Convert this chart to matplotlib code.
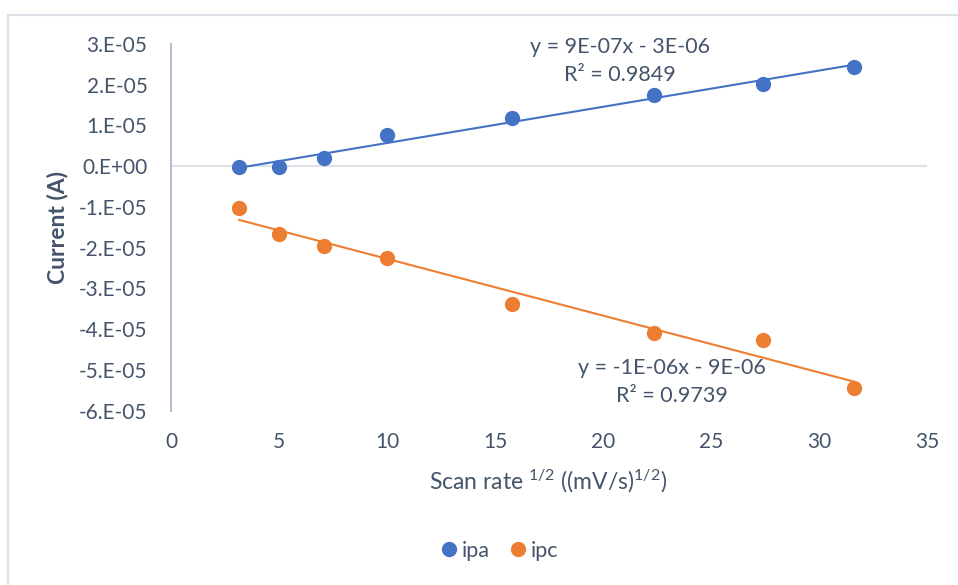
import numpy as np
import matplotlib
matplotlib.use("Agg")
import matplotlib.pyplot as plt
from matplotlib.lines import Line2D
from matplotlib.patches import Rectangle

# Square root of scan rate, (mV/s)^1/2
scan_rate_sqrt = [3.16, 5.00, 7.07, 10.00, 15.81, 22.36, 27.39, 31.62]
# Anodic peak current (A)
ipa = [-0.02e-5, -0.02e-5, 0.20e-5, 0.76e-5, 1.18e-5, 1.76e-5, 2.03e-5, 2.44e-5]
# Cathodic peak current (A)
ipc = [-1.03e-5, -1.67e-5, -1.95e-5, -2.26e-5, -3.38e-5, -4.10e-5, -4.26e-5, -5.44e-5]

x_ticks = [0, 5, 10, 15, 20, 25, 30, 35]
y_ticks = [3e-5, 2e-5, 1e-5, 0, -1e-5, -2e-5, -3e-5, -4e-5, -5e-5, -6e-5]
y_tick_labels = ["3.E-05", "2.E-05", "1.E-05", "0.E+00", "-1.E-05", "-2.E-05",
                 "-3.E-05", "-4.E-05", "-5.E-05", "-6.E-05"]

ipa_eq = "y = 9E-07x - 3E-06"
ipa_r2 = "R² = 0.9849"
ipc_eq = "y = -1E-06x - 9E-06"
ipc_r2 = "R² = 0.9739"

BLUE = "#4472C4"
ORANGE = "#ED7D31"
TEXT = "#44546A"

plt.rcParams["font.family"] = ["Lato", "DejaVu Sans"]
plt.rcParams["mathtext.fontset"] = "custom"
plt.rcParams["mathtext.rm"] = "Lato"
plt.rcParams["mathtext.it"] = "Lato:italic"
plt.rcParams["mathtext.bf"] = "Lato:bold"
plt.rcParams["mathtext.default"] = "rm"

W, H = 958, 585
fig = plt.figure(figsize=(W / 100, H / 100), dpi=100)

# light chart-area frame
fig.patches.append(Rectangle((8 / W, -0.05), 1.0, 1 - 15 / H + 0.05,
                             transform=fig.transFigure, fill=False,
                             edgecolor="#DEE2E8", linewidth=1.5))

ax = fig.add_axes([171 / W, 1 - 410.7 / H, (927 - 171) / W, (410.7 - 44) / H])
ax.set_xlim(0, 35)
ax.set_ylim(-6e-5, 3e-5)

for side in ("top", "right", "bottom"):
    ax.spines[side].set_visible(False)
ax.spines["left"].set_color("#B4BED0")
ax.spines["left"].set_linewidth(1.5)

# horizontal axis crossing at zero
ax.axhline(0, color="#DDE1E8", linewidth=1.5, zorder=1)

ax.set_xticks(x_ticks)
ax.set_xticklabels([str(t) for t in x_ticks])
ax.set_yticks(y_ticks)
ax.set_yticklabels(y_tick_labels)
ax.tick_params(axis="both", length=0, labelsize=15, colors=TEXT)
ax.tick_params(axis="y", pad=17)
ax.tick_params(axis="x", pad=15)

x = np.array(scan_rate_sqrt)
for series, color in ((ipa, BLUE), (ipc, ORANGE)):
    y = np.array(series)
    slope, intercept = np.polyfit(x, y, 1)
    xs = np.array([x.min(), x.max()])
    ax.plot(xs, slope * xs + intercept, color=color, linewidth=1.5, zorder=2)
    ax.plot(x, y, "o", color=color, markersize=11, markeredgewidth=0, zorder=3)

ax.text(20.8, 2.93e-5, ipa_eq, ha="center", va="center", fontsize=15.5, color=TEXT)
ax.text(20.8, 2.24e-5, ipa_r2, ha="center", va="center", fontsize=15.5, color=TEXT)
ax.text(23.2, -4.94e-5, ipc_eq, ha="center", va="center", fontsize=15.5, color=TEXT)
ax.text(23.2, -5.65e-5, ipc_r2, ha="center", va="center", fontsize=15.5, color=TEXT)

fig.text(548 / W, 1 - 481 / H, r"Scan rate $^{1/2}$ ((mV/s)$^{1/2}$)",
         ha="center", va="center", fontsize=16.5, color=TEXT)
fig.text(58 / W, 1 - 227 / H, "Current (A)", rotation=90, ha="center", va="center",
         fontsize=16.5, fontweight="bold", color=TEXT)

handles = [Line2D([], [], marker="o", linestyle="none", color=BLUE, markersize=11,
                  markeredgewidth=0, label="ipa"),
           Line2D([], [], marker="o", linestyle="none", color=ORANGE, markersize=11,
                  markeredgewidth=0, label="ipc")]
fig.legend(handles=handles, loc="center", bbox_to_anchor=(497 / W, 1 - 551 / H),
           ncol=2, frameon=False, fontsize=15.5, labelcolor=TEXT,
           handletextpad=0.0, columnspacing=0.7, handlelength=1.2)

fig.savefig("out.png", dpi=100)
